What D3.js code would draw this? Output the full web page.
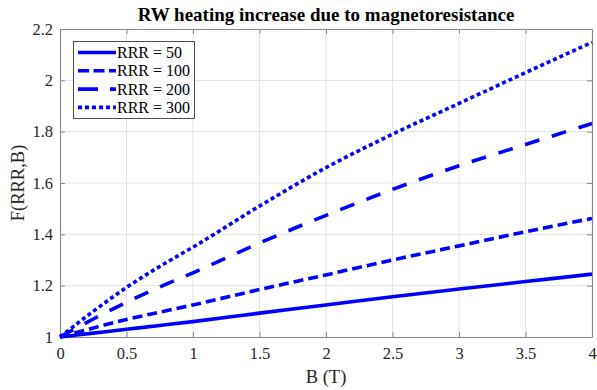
<!DOCTYPE html>
<html><head><meta charset="utf-8">
<script src="https://cdn.jsdelivr.net/npm/d3@7"></script>
<style>body{margin:0;background:#fff}svg{display:block}</style>
</head><body><svg id="c" width="597" height="390"></svg>
<script>
const B = [0, 0.25, 0.5, 0.75, 1, 1.5, 2, 2.5, 3, 3.5, 4];
const rrr50  = [1, 1.015, 1.03, 1.045, 1.06, 1.093, 1.125, 1.157, 1.187, 1.216, 1.245];
const rrr100 = [1, 1.035, 1.068, 1.097, 1.125, 1.185, 1.242, 1.30, 1.355, 1.41, 1.462];
const rrr200 = [1, 1.07, 1.135, 1.195, 1.25, 1.366, 1.474, 1.575, 1.667, 1.75, 1.832];
const rrr300 = [1, 1.1, 1.193, 1.275, 1.35, 1.51, 1.66, 1.79, 1.91, 2.03, 2.148];
const seriesNames = ["RRR = 50", "RRR = 100", "RRR = 200", "RRR = 300"];
const xTicks = [0, 0.5, 1, 1.5, 2, 2.5, 3, 3.5, 4];
const yTicks = [1, 1.2, 1.4, 1.6, 1.8, 2, 2.2];
const titleText = "RW heating increase due to magnetoresistance";
const xLabel = "B (T)";
const yLabel = "F(RRR,B)";

const series = [rrr50, rrr100, rrr200, rrr300];
const dashes = [null, "10,5", "15,13", "4,3"];
const legendDashes = [null, "11,4.5", "20,12,7,100", "4,3"];

const svg = d3.select("#c");
const L = 60, R = 592, T = 29, Bt = 337;
const x = d3.scaleLinear().domain([0, 4]).range([L, R]);
const y = d3.scaleLinear().domain([1, 2.2]).range([Bt, T]);
const font = "'Liberation Serif','Times New Roman',serif";
const axc = "#262626";

// grid
svg.append("g").selectAll("line").data(xTicks.slice(1, -1)).join("line")
  .attr("x1", d => x(d)).attr("x2", d => x(d)).attr("y1", T).attr("y2", Bt)
  .attr("stroke", "#e3e3e3").attr("stroke-width", 1);
svg.append("g").selectAll("line").data(yTicks.slice(1, -1)).join("line")
  .attr("y1", d => y(d)).attr("y2", d => y(d)).attr("x1", L).attr("x2", R)
  .attr("stroke", "#e3e3e3").attr("stroke-width", 1);

// axes
const fmt = d => String(d);
const gx = svg.append("g").attr("transform", `translate(0,${Bt})`)
  .call(d3.axisBottom(x).tickValues(xTicks).tickFormat(fmt).tickSizeInner(-5).tickSizeOuter(0).tickPadding(10));
const gy = svg.append("g").attr("transform", `translate(${L},0)`)
  .call(d3.axisLeft(y).tickValues(yTicks).tickFormat(fmt).tickSizeInner(-5).tickSizeOuter(0).tickPadding(7));
const gxt = svg.append("g").attr("transform", `translate(0,${T})`)
  .call(d3.axisTop(x).tickValues(xTicks).tickFormat("").tickSizeInner(-5).tickSizeOuter(0));
const gyr = svg.append("g").attr("transform", `translate(${R},0)`)
  .call(d3.axisRight(y).tickValues(yTicks).tickFormat("").tickSizeInner(-5).tickSizeOuter(0));
[gx, gy, gxt, gyr].forEach(g => {
  g.selectAll("path").attr("stroke", "#8a8a8a").attr("stroke-width", 1.2);
  g.selectAll("line").attr("stroke", "#8a8a8a");
  g.selectAll("text").attr("fill", axc).style("font-family", font).style("font-size", "16.5px");
});

// lines
const line = d3.line().x((d, i) => x(B[i])).y(d => y(d)).curve(d3.curveMonotoneX);
series.forEach((s, k) => {
  svg.append("path").attr("d", line(s)).attr("fill", "none")
    .attr("stroke", "#0000ff").attr("stroke-width", 3.6)
    .attr("stroke-dasharray", dashes[k]);
});

// legend
const lg = svg.append("g");
lg.append("rect").attr("x", 73.5).attr("y", 41.5).attr("width", 121).attr("height", 77)
  .attr("fill", "#fff").attr("stroke", "#262626").attr("stroke-width", 0.8);
seriesNames.forEach((n, k) => {
  const yy = 52.5 + k * 18.3;
  lg.append("line").attr("x1", 78).attr("x2", 116).attr("y1", yy).attr("y2", yy)
    .attr("stroke", "#0000ff").attr("stroke-width", 3.6).attr("stroke-dasharray", legendDashes[k]);
  lg.append("text").attr("x", 117).attr("y", yy + 5.5).text(n)
    .style("font-family", font).style("font-size", "16px").attr("fill", "#000");
});

// title and labels
svg.append("text").attr("x", 326).attr("y", 21).attr("text-anchor", "middle").text(titleText)
  .style("font-family", font).style("font-size", "19px").style("font-weight", "bold").attr("fill", "#000");
svg.append("text").attr("x", 326).attr("y", 383).attr("text-anchor", "middle").text(xLabel)
  .style("font-family", font).style("font-size", "18.5px").attr("fill", axc);
svg.append("text").attr("transform", "translate(24,183) rotate(-90)").attr("text-anchor", "middle").text(yLabel)
  .style("font-family", font).style("font-size", "18.5px").attr("fill", axc);
</script></body></html>
